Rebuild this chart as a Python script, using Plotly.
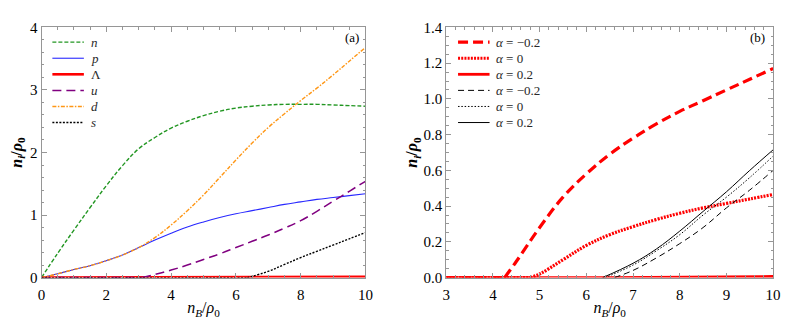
import plotly.graph_objects as go

# ---------------- Panel (a) data ----------------
x_a = [0, 0.5, 1, 1.5, 2, 2.5, 3, 3.5, 4, 4.5, 5, 5.5, 6, 6.5, 7, 7.5, 8, 8.5, 9, 9.5, 10]
n_vals = [0, 0.39, 0.76, 1.12, 1.47, 1.79, 2.06, 2.24, 2.39, 2.50, 2.59, 2.66, 2.71, 2.74, 2.76, 2.77, 2.77, 2.77, 2.76, 2.75, 2.74]
p_vals = [0, 0.06, 0.13, 0.19, 0.27, 0.36, 0.48, 0.60, 0.71, 0.81, 0.89, 0.96, 1.02, 1.07, 1.12, 1.17, 1.21, 1.25, 1.28, 1.31, 1.34]
d_vals = [0, 0.06, 0.13, 0.19, 0.27, 0.36, 0.48, 0.64, 0.84, 1.07, 1.32, 1.60, 1.88, 2.15, 2.40, 2.62, 2.83, 3.03, 3.24, 3.46, 3.68]

x_u = [3.1, 3.5, 4, 4.5, 5, 5.5, 6, 6.5, 7, 7.5, 8, 8.5, 9, 9.5, 10]
u_vals = [0, 0.05, 0.12, 0.20, 0.29, 0.38, 0.48, 0.58, 0.68, 0.79, 0.91, 1.06, 1.22, 1.38, 1.54]

x_s = [6.35, 6.5, 7, 7.5, 8, 8.5, 9, 9.5, 10]
s_vals = [0, 0.02, 0.10, 0.21, 0.32, 0.42, 0.52, 0.62, 0.72]

x_lam = [0, 6.4, 8, 10]
lam_vals = [0, 0, 0.006, 0.012]

# ---------------- Panel (b) data ----------------
x_rd = [4.25, 4.5, 5, 5.5, 6, 6.5, 7, 7.5, 8, 8.5, 9, 9.5, 10]
rd_vals = [0, 0.09, 0.28, 0.45, 0.58, 0.69, 0.78, 0.86, 0.93, 0.99, 1.05, 1.11, 1.17]

x_ro = [4.8, 5, 5.5, 6, 6.5, 7, 7.5, 8, 8.5, 9, 9.5, 10]
ro_vals = [0, 0.02, 0.10, 0.18, 0.24, 0.285, 0.325, 0.36, 0.39, 0.415, 0.44, 0.465]

x_rs = [3, 6.5, 10]
rs_vals = [0, 0, 0.006]

x_kd = [6.6, 7, 7.5, 8, 8.5, 9, 9.5, 10]
kd_vals = [0, 0.04, 0.11, 0.19, 0.28, 0.39, 0.49, 0.60]

x_ko = [6.4, 7, 7.5, 8, 8.5, 9, 9.5, 10]
ko_vals = [0, 0.07, 0.15, 0.24, 0.35, 0.45, 0.56, 0.68]

x_ks = [6.35, 7, 7.5, 8, 8.5, 9, 9.5, 10]
ks_vals = [0, 0.08, 0.16, 0.26, 0.37, 0.48, 0.60, 0.715]

labels_a = ["<i>n</i>", "<i>p</i>", "Λ", "<i>u</i>", "<i>d</i>", "<i>s</i>"]
labels_b = ["<i>α</i> = −0.2", "<i>α</i> = 0", "<i>α</i> = 0.2",
            "<i>α</i> = −0.2", "<i>α</i> = 0", "<i>α</i> = 0.2"]

GREEN = "rgb(34,150,34)"
BLUE = "rgb(40,40,255)"
RED = "rgb(255,0,0)"
PURPLE = "rgb(128,0,128)"
ORANGE = "rgb(255,150,20)"
BLACK = "rgb(0,0,0)"

FONT = "Liberation Serif"
FRAME = "rgb(150,150,150)"
# The page body adds an 8px offset, so the figure is 8px smaller and every
# layout position below is given in screen pixels converted to figure paper.
OFF = 8
FW, FH = 789 - OFF, 336 - OFF

def fx(px):
    return (px - OFF) / FW

def fy(py):
    return 1 - (py - OFF) / FH

fig = go.Figure()
legend_items = {"a": [], "b": []}

def add(x, y, name, color, width, dash, xa, ya, panel, base_from=None, shape="spline"):
    if base_from is not None and base_from < x[0]:
        fig.add_trace(go.Scatter(x=[base_from, x[0]], y=[0, 0], mode="lines",
                                 line=dict(color=color, width=width, dash=dash),
                                 xaxis=xa, yaxis=ya, showlegend=False,
                                 hoverinfo="skip"))
    fig.add_trace(go.Scatter(x=x, y=y, name=name, mode="lines",
                             line=dict(color=color, width=width, dash=dash,
                                       shape=shape, smoothing=1.1),
                             xaxis=xa, yaxis=ya, showlegend=False))
    legend_items[panel].append((name, color, width, dash))

# Panel (a)
add(x_a, n_vals, labels_a[0], GREEN, 1.4, "4px,2px", "x", "y", "a")
add(x_a, p_vals, labels_a[1], BLUE, 1.1, "solid", "x", "y", "a")
add(x_lam, lam_vals, labels_a[2], RED, 2.6, "solid", "x", "y", "a", shape="linear")
add(x_u, u_vals, labels_a[3], PURPLE, 1.5, "9px,5px", "x", "y", "a", base_from=0)
add(x_a, d_vals, labels_a[4], ORANGE, 1.4, "4px,1.5px,1.5px,1.5px", "x", "y", "a")
add(x_s, s_vals, labels_a[5], BLACK, 1.4, "2px,1.5px", "x", "y", "a", base_from=0)

# Panel (b)
add(x_rd, rd_vals, labels_b[0], RED, 3.2, "10px,5px", "x2", "y2", "b", base_from=3)
add(x_ro, ro_vals, labels_b[1], RED, 3.2, "2px,1.2px", "x2", "y2", "b", base_from=3)
add(x_rs, rs_vals, labels_b[2], RED, 2.8, "solid", "x2", "y2", "b", shape="linear")
add(x_kd, kd_vals, labels_b[3], BLACK, 1.0, "6px,4px", "x2", "y2", "b")
add(x_ko, ko_vals, labels_b[4], BLACK, 1.0, "1.5px,1.8px", "x2", "y2", "b")
add(x_ks, ks_vals, labels_b[5], BLACK, 1.0, "solid", "x2", "y2", "b")

# Manual legends (compact row spacing like the reference)
shapes, annotations = [], []
legend_geom = {"a": (49, 81, 86), "b": (461, 493, 498)}
for panel, items in legend_items.items():
    x0, x1, xt = legend_geom[panel]
    for i, (name, color, width, dash) in enumerate(items):
        yy = 35.5 + 16.9 * i
        shapes.append(dict(type="line", xref="paper", yref="paper",
                           x0=fx(x0), x1=fx(x1), y0=fy(yy), y1=fy(yy),
                           line=dict(color=color, width=width, dash=dash)))
        annotations.append(dict(text=name, x=fx(xt), y=fy(yy), xref="paper", yref="paper",
                                xanchor="left", yanchor="middle", showarrow=False,
                                font=dict(family=FONT, size=13, color="rgb(40,40,40)")))

annotations += [
    dict(text="(a)", x=fx(362), y=fy(31), xref="paper", yref="paper",
         xanchor="right", yanchor="middle", showarrow=False,
         font=dict(family=FONT, size=13)),
    dict(text="(b)", x=fx(775), y=fy(31), xref="paper", yref="paper",
         xanchor="right", yanchor="middle", showarrow=False,
         font=dict(family=FONT, size=13)),
]

def axis_style(rng, dtick, minor_dtick, tickfmt=None, standoff=0):
    d = dict(range=rng, dtick=dtick, tick0=rng[0], showgrid=False, zeroline=False,
             showline=True, linecolor=FRAME, linewidth=1, mirror="allticks",
             ticks="inside", ticklen=5, tickcolor=FRAME, tickwidth=1,
             ticklabelstandoff=standoff,
             tickfont=dict(family=FONT, size=15, color="black"),
             minor=dict(dtick=minor_dtick, ticks="inside", ticklen=2.5,
                        tickcolor=FRAME, showgrid=False),
             fixedrange=True)
    if tickfmt:
        d["tickformat"] = tickfmt
    return d

xtitle = "<i>n<sub>B</sub></i>/<i>ρ</i><sub>0</sub>"
ytitle = "<b><i>n<sub>i</sub></i>/<i>ρ</i><sub>0</sub></b>"

fig.update_layout(
    width=FW, height=FH,
    margin=dict(l=0, r=0, t=0, b=0),
    paper_bgcolor="white", plot_bgcolor="white",
    font=dict(family=FONT, size=13, color="black"),
    xaxis=dict(domain=[fx(38), fx(367)], anchor="y",
               title=dict(text=xtitle, font=dict(family=FONT, size=16), standoff=0),
               **axis_style([0, 10], 2, 0.5, standoff=3)),
    yaxis=dict(domain=[fy(283), fy(20)], anchor="x",
               title=dict(text=ytitle, font=dict(family=FONT, size=16), standoff=4),
               **axis_style([0, 4], 1, 0.2)),
    xaxis2=dict(domain=[fx(449), fx(781)], anchor="y2",
                title=dict(text=xtitle, font=dict(family=FONT, size=16), standoff=0),
                **axis_style([3, 10], 1, 0.2, standoff=3)),
    yaxis2=dict(domain=[fy(283), fy(20)], anchor="x2",
                title=dict(text=ytitle, font=dict(family=FONT, size=16), standoff=1),
                **axis_style([0, 1.4], 0.2, 0.05, ".1f")),
    shapes=shapes,
    annotations=annotations,
    showlegend=False,
)

fig.write_html("out.html")
